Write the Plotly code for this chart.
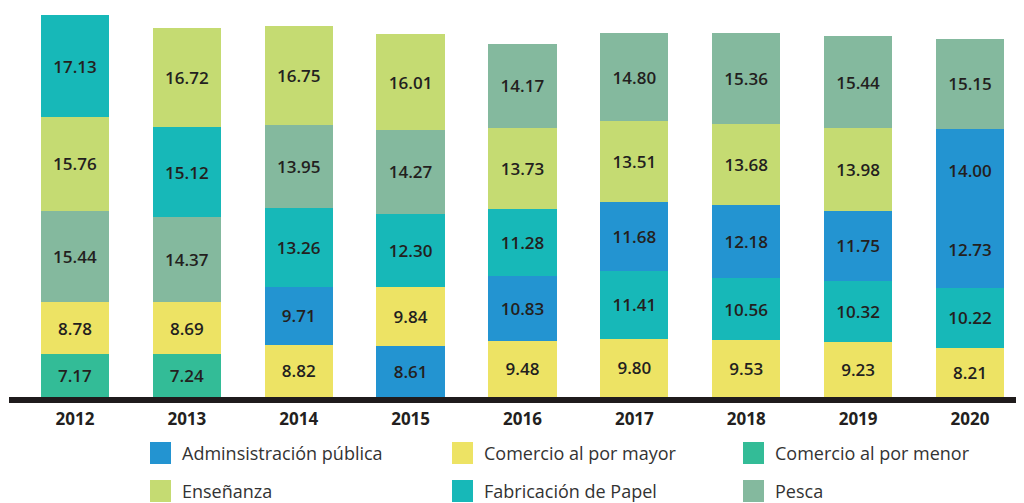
import plotly.graph_objects as go

years = ["2012", "2013", "2014", "2015", "2016", "2017", "2018", "2019", "2020"]

categories = ["Adminsistración pública", "Comercio al por mayor", "Comercio al por menor",
              "Enseñanza", "Fabricación de Papel", "Pesca"]
cat_colors = ["#2394d1", "#ede364", "#33bc97", "#c5db72", "#17b8b8", "#84b99e"]

# stack levels, bottom (1) to top (5): category per year and value per year
level1_cat = ["Comercio al por menor", "Comercio al por menor", "Comercio al por mayor",
              "Adminsistración pública", "Comercio al por mayor", "Comercio al por mayor",
              "Comercio al por mayor", "Comercio al por mayor", "Comercio al por mayor"]
level1_val = [7.17, 7.24, 8.82, 8.61, 9.48, 9.80, 9.53, 9.23, 8.21]

level2_cat = ["Comercio al por mayor", "Comercio al por mayor", "Adminsistración pública",
              "Comercio al por mayor", "Adminsistración pública", "Fabricación de Papel",
              "Fabricación de Papel", "Fabricación de Papel", "Fabricación de Papel"]
level2_val = [8.78, 8.69, 9.71, 9.84, 10.83, 11.41, 10.56, 10.32, 10.22]

level3_cat = ["Pesca", "Pesca", "Fabricación de Papel", "Fabricación de Papel",
              "Fabricación de Papel", "Adminsistración pública", "Adminsistración pública",
              "Adminsistración pública", "Adminsistración pública"]
level3_val = [15.44, 14.37, 13.26, 12.30, 11.28, 11.68, 12.18, 11.75, 12.73]

level4_cat = ["Enseñanza", "Fabricación de Papel", "Pesca", "Pesca", "Enseñanza",
              "Enseñanza", "Enseñanza", "Enseñanza", "Adminsistración pública"]
level4_val = [15.76, 15.12, 13.95, 14.27, 13.73, 13.51, 13.68, 13.98, 14.00]

level5_cat = ["Fabricación de Papel", "Enseñanza", "Enseñanza", "Enseñanza", "Pesca",
              "Pesca", "Pesca", "Pesca", "Pesca"]
level5_val = [17.13, 16.72, 16.75, 16.01, 14.17, 14.80, 15.36, 15.44, 15.15]

levels = [(level1_cat, level1_val), (level2_cat, level2_val), (level3_cat, level3_val),
          (level4_cat, level4_val), (level5_cat, level5_val)]
color_of = dict(zip(categories, cat_colors))

FONT = "Open Sans"
fig = go.Figure()
for cats, vals in levels:
    fig.add_trace(go.Bar(
        x=years, y=vals,
        marker=dict(color=[color_of[c] for c in cats], line=dict(width=0)),
        text=[f"{v:.2f}" for v in vals],
        textposition="inside", insidetextanchor="middle", textangle=0,
        constraintext="none",
        textfont=dict(family=FONT, size=17, color="#231f20", weight=600),
        hovertext=cats, showlegend=False,
    ))

# the page body adds an 8px offset; the figure is sized to fit the window
OFF = 8
W, H = 1016, 495
L, R, T, B = 1, 0, 0, 106
fig.update_layout(
    width=W, height=H, barmode="stack", bargap=0.39,
    margin=dict(l=L, r=R, t=T, b=B),
    paper_bgcolor="white", plot_bgcolor="white",
    showlegend=False,
    xaxis=dict(type="category", range=[-0.59, 8.483], showline=True, linewidth=6,
               linecolor="#1f1b1c", showgrid=False, zeroline=False,
               ticks="outside", ticklen=2, tickcolor="rgba(0,0,0,0)",
               tickfont=dict(family=FONT, size=17, color="#231f20", weight=700)),
    yaxis=dict(range=[0, 65.49], visible=False, showgrid=False, zeroline=False),
)

# manual legend (two rows of three), built from the category list
plot_h = H - T - B
plot_w = W - L - R
def px_x(px):
    return (px - OFF - L) / plot_w
def px_y(py):
    return (H - B - (py - OFF)) / plot_h

col_x = [150, 452, 743]
row_y = [453, 491]
for i, (cat, col) in enumerate(zip(categories, cat_colors)):
    r, c = divmod(i, 3)
    cx, cy = col_x[c], row_y[r]
    fig.add_shape(type="rect", xref="paper", yref="paper",
                  x0=px_x(cx), x1=px_x(cx + 21), y0=px_y(cy + 11), y1=px_y(cy - 11),
                  fillcolor=col, line=dict(width=0))
    fig.add_annotation(xref="paper", yref="paper", x=px_x(cx + 31), y=px_y(cy),
                       xanchor="left", yanchor="middle", showarrow=False, text=cat,
                       borderpad=0,
                       font=dict(family=FONT, size=18, color="#333333"))

fig.write_html("out.html")
